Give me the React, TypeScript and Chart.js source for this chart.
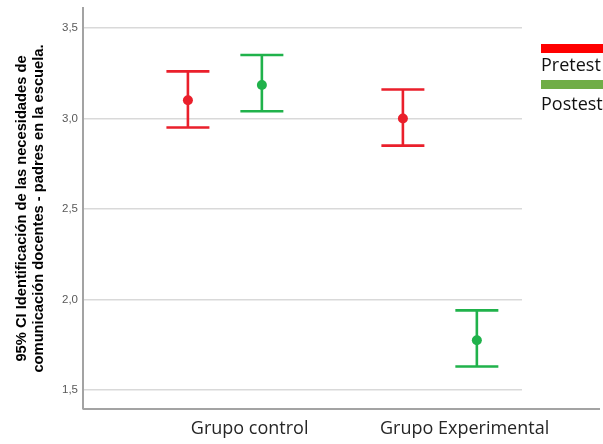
import React, { useEffect, useRef } from "react";
import { Chart, registerables } from "chart.js";

Chart.register(...registerables);

const categories = ["Grupo control", "Grupo Experimental"];
const seriesNames = ["Pretest", "Postest"];
const pretestMean = [3.1, 3.0];
const pretestLow = [2.95, 2.85];
const pretestHigh = [3.26, 3.16];
const postestMean = [3.185, 1.775];
const postestLow = [3.04, 1.63];
const postestHigh = [3.35, 1.94];
const yTicks = [1.5, 2.0, 2.5, 3.0, 3.5];

const RED = "#ea1f2b";
const GREEN = "#20b24b";
const SERIES_OFFSET = 0.172;
const LABEL_SHIFT = 0.115;

const errorBarPlugin = {
  id: "errorBars",
  beforeDatasetsDraw(chart: any) {
    const ctx = chart.ctx;
    const xs = chart.scales.x;
    const ys = chart.scales.y;
    chart.data.datasets.forEach((ds: any) => {
      ctx.save();
      ctx.strokeStyle = ds.borderColor;
      ctx.lineWidth = 2.6;
      ds.data.forEach((d: any) => {
        const x = xs.getPixelForValue(d.x);
        const yl = ys.getPixelForValue(d.low);
        const yh = ys.getPixelForValue(d.high);
        const cap = 21.5;
        ctx.beginPath();
        ctx.moveTo(x, yl);
        ctx.lineTo(x, yh);
        ctx.moveTo(x - cap, yl);
        ctx.lineTo(x + cap, yl);
        ctx.moveTo(x - cap, yh);
        ctx.lineTo(x + cap, yh);
        ctx.stroke();
      });
      ctx.restore();
    });
  },
  afterDraw(chart: any) {
    const ctx = chart.ctx;
    const a = chart.chartArea;
    ctx.save();
    ctx.strokeStyle = "#a3a3a3";
    ctx.lineWidth = 2;
    ctx.beginPath();
    ctx.moveTo(a.left, a.bottom);
    ctx.lineTo(600, a.bottom);
    ctx.stroke();
    ctx.restore();
  },
};

export default function App() {
  const ref = useRef<HTMLCanvasElement>(null);
  useEffect(() => {
    document.body.style.margin = "0";
    const mk = (mean: number[], low: number[], high: number[], sign: number) =>
      mean.map((m, i) => ({ x: i + sign * SERIES_OFFSET, y: m, low: low[i], high: high[i] }));
    const chart = new Chart(ref.current!, {
      type: "scatter",
      data: {
        datasets: [
          {
            label: seriesNames[0],
            data: mk(pretestMean, pretestLow, pretestHigh, -1) as any,
            backgroundColor: RED,
            borderColor: RED,
            pointRadius: 5,
            pointBorderWidth: 0,
          },
          {
            label: seriesNames[1],
            data: mk(postestMean, postestLow, postestHigh, 1) as any,
            backgroundColor: GREEN,
            borderColor: GREEN,
            pointRadius: 5,
            pointBorderWidth: 0,
          },
        ],
      },
      options: {
        animation: false,
        responsive: false,
        layout: { padding: { left: 0, right: 81, top: 8, bottom: 0 } },
        plugins: { legend: { display: false }, tooltip: { enabled: false } },
        scales: {
          x: {
            type: "linear",
            min: -0.66,
            max: 1.382,
            grid: { display: false, drawTicks: false },
            border: { display: false },
            afterBuildTicks: (s: any) => {
              s.ticks = categories.map((_, i) => ({ value: i + LABEL_SHIFT }));
            },
            afterFit: (s: any) => {
              s.height = 35;
              s.paddingLeft = 0;
              s.paddingRight = 0;
            },
            ticks: {
              autoSkip: false,
              maxRotation: 0,
              padding: 9,
              color: "#262626",
              font: { family: "Open Sans", size: 18 },
              callback: (_v: any, i: number) => categories[i],
            },
          },
          y: {
            min: 1.395,
            max: 3.61,
            afterBuildTicks: (s: any) => {
              s.ticks = yTicks.map((v) => ({ value: v }));
            },
            afterFit: (s: any) => {
              s.width = 83;
              s.paddingTop = 0;
              s.paddingBottom = 0;
            },
            grid: { color: "#d9d9d9", lineWidth: 1.5, drawTicks: false },
            border: { color: "#a3a3a3", width: 2 },
            ticks: {
              padding: 5,
              color: "#595959",
              font: { family: "Liberation Sans", size: 11.5 },
              callback: (v: any) => Number(v).toFixed(1).replace(".", ","),
            },
            title: {
              display: true,
              text: [
                "95% CI Identificación de las necesidades de",
                "comunicación docentes - padres en la escuela.",
              ],
              color: "#000",
              font: { family: "Liberation Sans", size: 14.7, weight: "bold", lineHeight: 1.14 },
              padding: { top: 14, bottom: 0 },
            },
          },
        },
      },
      plugins: [errorBarPlugin],
    });
    return () => chart.destroy();
  }, []);

  const legendText: React.CSSProperties = {
    position: "absolute",
    left: 541,
    fontFamily: "Open Sans",
    fontSize: 18,
    color: "#111",
    lineHeight: "20px",
    whiteSpace: "nowrap",
  };
  return (
    <div style={{ position: "relative", width: 603, height: 444, background: "#fff", overflow: "hidden" }}>
      <canvas ref={ref} width={603} height={444} style={{ position: "absolute", left: 0, top: 0 }} />
      <div style={{ position: "absolute", left: 541, top: 44, width: 62, height: 9, background: "#ff0000" }} />
      <div style={{ ...legendText, top: 54 }}>{seriesNames[0]}</div>
      <div style={{ position: "absolute", left: 541, top: 80, width: 62, height: 9, background: "#70ad47" }} />
      <div style={{ ...legendText, top: 93 }}>{seriesNames[1]}</div>
    </div>
  );
}
